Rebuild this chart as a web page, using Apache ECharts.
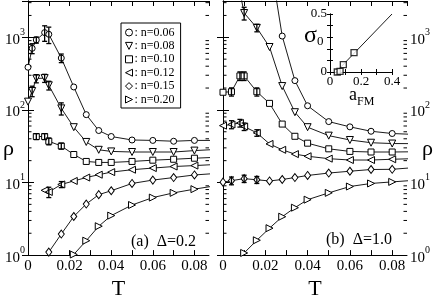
<!DOCTYPE html>
<html><head><meta charset="utf-8">
<script src="https://cdn.jsdelivr.net/npm/echarts@6/dist/echarts.min.js"></script>
<style>html,body{margin:0;padding:0;background:#fff}#c{width:436px;height:305px}</style>
</head><body><div id="c"></div>
<script>
// ---------- data ----------
const seriesNames = [': n=0.06', ': n=0.08', ': n=0.10', ': n=0.12', ': n=0.15', ': n=0.20'];
const xTickLabels = ['0', '0.02', '0.04', '0.06', '0.08'];
const insetXLabels = ['0', '0.2', '0.4'];
const insetYLabels = ['0', '0.5'];

// Panel (a) Δ=0.2
const a06T = [0, 0.002, 0.004, 0.008, 0.01, 0.016, 0.022, 0.028, 0.034, 0.04, 0.05, 0.06, 0.07, 0.08, 0.09];
const a06R = [387, 705, 920, 1160, 1100, 518, 207, 86, 52, 43, 38.5, 38, 37, 38, 38];
const a06E = [0, 110, 90, 280, 280, 70, 0, 0, 0, 0, 0, 0, 0, 0, 0];
const a08T = [0, 0.002, 0.004, 0.008, 0.01, 0.016, 0.022, 0.028, 0.034, 0.04, 0.05, 0.06, 0.07, 0.08, 0.09];
const a08R = [130, 182, 271, 274, 218, 105, 57.8, 36.2, 28.2, 26.8, 26.3, 26.3, 26.3, 27.5, 28.5];
const a08E = [0, 30, 35, 35, 30, 20, 0, 0, 0, 0, 0, 0, 0, 0, 0];
const a10T = [0.004, 0.008, 0.01, 0.016, 0.022, 0.028, 0.034, 0.04, 0.05, 0.06, 0.07, 0.08, 0.09];
const a10R = [43, 43, 37, 31.8, 24.3, 19.5, 18.9, 18.9, 19.5, 20.3, 20.9, 21.6, 22.2];
const a10E = [4, 4, 4, 3, 0, 0, 0, 0, 0, 0, 0, 0, 0];
const a12T = [0.008, 0.01, 0.016, 0.022, 0.028, 0.034, 0.04, 0.05, 0.06, 0.07, 0.08, 0.09];
const a12R = [7.8, 7.4, 9.4, 10.5, 11.7, 12.8, 13.9, 15.0, 15.8, 16.6, 17.1, 17.7];
const a12E = [0, 1.2, 0.9, 0, 0, 0, 0, 0, 0, 0, 0, 0];
const a15T = [0.01, 0.016, 0.022, 0.028, 0.034, 0.04, 0.05, 0.06, 0.07, 0.08, 0.09];
const a15R = [1.1, 1.95, 3.4, 5.05, 6.8, 7.7, 9.7, 10.8, 11.7, 12.7, 13.3];
const a20T = [0.022, 0.028, 0.034, 0.04, 0.05, 0.06, 0.07, 0.08, 0.09];
const a20R = [1.02, 1.58, 2.5, 3.5, 4.9, 6.2, 7.2, 8.1, 9.0];

// Panel (b) Δ=1.0
const b06T = [0.022, 0.028, 0.034, 0.04, 0.05, 0.06, 0.07, 0.08, 0.09];
const b06R = [13000, 1040, 253, 114, 69, 58.4, 50.8, 47.3, 46];
const b08T = [0.008, 0.01, 0.016, 0.022, 0.028, 0.034, 0.04, 0.05, 0.06, 0.07, 0.08, 0.09];
const b08R = [4200, 2160, 1350, 735, 213, 93, 57.8, 44.2, 38.5, 35.3, 34.4, 34.3];
const b08E = [0, 430, 160, 0, 0, 0, 0, 0, 0, 0, 0, 0];
const b10T = [0, 0.004, 0.008, 0.01, 0.016, 0.022, 0.028, 0.034, 0.04, 0.05, 0.06, 0.07, 0.08, 0.09];
const b10R = [175, 178, 294, 294, 178, 123, 63.8, 43.3, 34.8, 29.1, 26.8, 26.3, 26.3, 26.5];
const b10E = [0, 23, 40, 40, 23, 0, 0, 0, 0, 0, 0, 0, 0, 0];
const b12T = [0, 0.004, 0.008, 0.01, 0.016, 0.022, 0.028, 0.034, 0.04, 0.05, 0.06, 0.07, 0.08, 0.09];
const b12R = [60.7, 63, 66, 59, 48.3, 34, 28.2, 24.6, 23, 21.3, 20.4, 20.4, 20.9, 21.3];
const b12E = [0, 8, 8, 7, 5, 0, 0, 0, 0, 0, 0, 0, 0, 0];
const b15T = [0, 0.004, 0.01, 0.016, 0.022, 0.028, 0.034, 0.04, 0.05, 0.06, 0.07, 0.08, 0.09];
const b15R = [10.1, 10.6, 11.3, 10.9, 10.5, 11.0, 11.7, 12.5, 13.5, 14.3, 15.1, 15.2, 16];
const b15E = [0, 1.3, 1.3, 1.2, 0, 0, 0, 0, 0, 0, 0, 0, 0];
const b20T = [0.01, 0.016, 0.022, 0.028, 0.034, 0.04, 0.05, 0.06, 0.07, 0.08, 0.09];
const b20R = [1.07, 1.6, 2.35, 3.38, 4.5, 5.8, 7.2, 8.8, 9.7, 10.2, 10.7];

// Inset σ0 vs a_FM
const insetA = [0.047, 0.065, 0.086, 0.155];
const insetS = [0.0, 0.006, 0.064, 0.167];
const fitA = [0.039, 0.4];
const fitS = [0.0, 0.5];

// ---------- helpers ----------
const FONT = 'Liberation Serif';
const SYM = ['circle', 'path://M0,0L10,0L5,10Z', 'rect', 'path://M10,0L10,10L0,5Z', 'diamond', 'path://M0,0L0,10L10,5Z'];
const SYMSIZE = [6, 7, 6, 7, [6, 8], 7];
const pairs = (X, Y) => X.map((x, i) => [x, Y[i]]);
const errRows = (T, R, E) => T.map((t, i) => [t, R[i] - E[i], R[i] + E[i], E[i]]).filter(r => r[3] > 0);

function lineSeries(idx, gi, T, R) {
  return {
    type: 'line', name: seriesNames[idx], xAxisIndex: gi * 2, yAxisIndex: gi * 2,
    data: pairs(T, R), symbol: SYM[idx], symbolSize: SYMSIZE[idx], showAllSymbol: true,
    itemStyle: { color: '#fff', borderColor: '#000', borderWidth: 1 },
    lineStyle: { color: '#000', width: 0.9 }, clip: true, silent: true, z: 3
  };
}
function errSeries(gi, rows) {
  return {
    type: 'custom', xAxisIndex: gi * 2, yAxisIndex: gi * 2, data: rows, clip: true, silent: true, z: 4,
    encode: { x: 0, y: [1, 2] },
    renderItem: (params, api) => {
      const p1 = api.coord([api.value(0), api.value(1)]);
      const p2 = api.coord([api.value(0), api.value(2)]);
      const w = 2.5, st = { stroke: '#000', lineWidth: 1.3 };
      return { type: 'group', children: [
        { type: 'line', shape: { x1: p1[0], y1: p1[1], x2: p2[0], y2: p2[1] }, style: st },
        { type: 'line', shape: { x1: p1[0] - w, y1: p1[1], x2: p1[0] + w, y2: p1[1] }, style: st },
        { type: 'line', shape: { x1: p2[0] - w, y1: p2[1], x2: p2[0] + w, y2: p2[1] }, style: st }
      ] };
    }
  };
}
// log minor tick values (2..9 per decade)
const minorVals = [];
for (let d = 1; d <= 1000; d *= 10) for (let k = 2; k <= 9; k++) if (k * d < 3162) minorVals.push([0.01, k * d]);
function minorTickSeries(gi) {
  return {
    type: 'custom', xAxisIndex: gi * 2, yAxisIndex: gi * 2, data: minorVals, silent: true, z: 2,
    encode: { x: 0, y: 1 },
    renderItem: (params, api) => {
      const cs = params.coordSys;
      const y = api.coord([api.value(0), api.value(1)])[1];
      const L = 3.5, st = { stroke: '#000', lineWidth: 1 };
      return { type: 'group', children: [
        { type: 'line', shape: { x1: cs.x, y1: y, x2: cs.x + L, y2: y }, style: st },
        { type: 'line', shape: { x1: cs.x + cs.width - L, y1: y, x2: cs.x + cs.width, y2: y }, style: st }
      ] };
    }
  };
}

const xFmt = v => {
  const k = Math.round(v * 100);
  if (Math.abs(v * 100 - k) > 1e-6 || k % 2) return '';
  return xTickLabels[k / 2] || '';
};
const yFmt = v => {
  const e = Math.round(Math.log10(v) * 1000) / 1000;
  if (!Number.isInteger(e)) return '';
  return '{b|10}{s|' + e + '}';
};
const yRich = {
  b: { fontSize: 15, fontFamily: FONT, color: '#000', padding: [5, 0, 0, 0] },
  s: { fontSize: 10, fontFamily: FONT, color: '#000', verticalAlign: 'top' }
};
const axLine = { show: true, lineStyle: { color: '#000', width: 1 } };

function mainX(gi, pos, showLabel) {
  return {
    type: 'value', gridIndex: gi, position: pos, min: 0, max: 0.087, interval: 0.01,
    axisLine: axLine, splitLine: { show: false },
    axisTick: { show: true, inside: true, length: 5, lineStyle: { color: '#000' } },
    axisLabel: { show: showLabel, formatter: xFmt, fontSize: 15, fontFamily: FONT, color: '#000', margin: 3, showMaxLabel: false },
    name: showLabel ? 'T' : '', nameLocation: 'middle', nameGap: 12,
    nameTextStyle: { fontSize: 22, fontFamily: FONT, color: '#000', verticalAlign: 'top' }
  };
}
function mainY(gi, pos, showLabel) {
  return {
    type: 'log', logBase: 10, gridIndex: gi, position: pos, min: 1, max: 3162.28,
    axisLine: axLine, splitLine: { show: false }, minorTick: { show: false },
    axisTick: { show: true, inside: true, length: 6, lineStyle: { color: '#000' } },
    axisLabel: { show: showLabel, formatter: yFmt, rich: yRich, margin: 3, showMaxLabel: false }
  };
}

const insetLbl = { fontSize: 13, fontFamily: FONT, color: '#000' };
const option = {
  animation: false,
  backgroundColor: '#fff',
  textStyle: { fontFamily: FONT },
  grid: [
    { left: 28, top: 1, width: 181, height: 269 },
    { left: 223, top: 1, width: 184, height: 269 },
    { left: 330, top: 14, width: 62, height: 58, show: true, backgroundColor: '#fff', borderWidth: 0, z: 5 }
  ],
  xAxis: [
    mainX(0, 'bottom', true), mainX(0, 'top', false),
    mainX(1, 'bottom', true), mainX(1, 'top', false),
    { type: 'value', gridIndex: 2, position: 'bottom', min: 0, max: 0.4, interval: 0.1, z: 6,
      axisLine: axLine, splitLine: { show: false },
      axisTick: { inside: true, length: 3, lineStyle: { color: '#000' } },
      axisLabel: Object.assign({ margin: 3, formatter: v => { const k = Math.round(v * 10); return (k % 2) ? '' : (insetXLabels[k / 2] || ''); } }, insetLbl) },
    { type: 'value', gridIndex: 2, position: 'top', min: 0, max: 0.4, interval: 0.1, z: 6,
      axisLine: axLine, splitLine: { show: false },
      axisTick: { inside: true, length: 3, lineStyle: { color: '#000' } }, axisLabel: { show: false } }
  ],
  yAxis: [
    mainY(0, 'left', true), mainY(0, 'right', false),
    mainY(1, 'right', true), mainY(1, 'left', false),
    { type: 'value', gridIndex: 2, position: 'left', min: 0, max: 0.5, interval: 0.1, z: 6,
      axisLine: axLine, splitLine: { show: false },
      axisTick: { inside: true, length: 3, lineStyle: { color: '#000' } },
      axisLabel: Object.assign({ margin: 3, formatter: v => { const k = Math.round(v * 10); return k === 0 ? insetYLabels[0] : (k === 5 ? insetYLabels[1] : ''); } }, insetLbl) },
    { type: 'value', gridIndex: 2, position: 'right', min: 0, max: 0.5, interval: 0.1, z: 6,
      axisLine: axLine, splitLine: { show: false },
      axisTick: { inside: true, length: 3, lineStyle: { color: '#000' } }, axisLabel: { show: false } }
  ],
  legend: {
    left: 121, top: 23, orient: 'vertical', padding: [3, 6, 2, 4], itemGap: 0.4,
    itemWidth: 7, itemHeight: 7, borderColor: '#000', borderWidth: 1, backgroundColor: '#fff',
    textStyle: { fontSize: 12, fontFamily: FONT, color: '#000', lineHeight: 13, padding: [0, 0, 0, -3] },
    itemStyle: { color: '#fff', borderColor: '#000', borderWidth: 1 },
    data: seriesNames.map((n, i) => ({ name: n, icon: SYM[i] })),
    selectedMode: false
  },
  graphic: [
    { type: 'text', left: 3, top: 138, style: { text: 'ρ', fontSize: 22, fontFamily: FONT, fill: '#000' } },
    { type: 'text', left: 422, top: 138, style: { text: 'ρ', fontSize: 22, fontFamily: FONT, fill: '#000' } },
    { type: 'text', left: 131, top: 234, style: { text: '(a)  Δ=0.2', fontSize: 16, fontFamily: FONT, fill: '#000' } },
    { type: 'text', left: 326, top: 232, style: { text: '(b)  Δ=1.0', fontSize: 16, fontFamily: FONT, fill: '#000' } },
    { type: 'text', left: 304, top: 24, style: { text: '{s|σ}{u|0}', rich: {
      s: { fontSize: 24, fontFamily: FONT, fill: '#000' },
      u: { fontSize: 13, fontFamily: FONT, fill: '#000', verticalAlign: 'bottom', padding: [0, 0, 0, 0] } } } },
    { type: 'text', left: 349, top: 86, style: { text: '{s|a}{u|FM}', rich: {
      s: { fontSize: 18, fontFamily: FONT, fill: '#000' },
      u: { fontSize: 12, fontFamily: FONT, fill: '#000', verticalAlign: 'bottom', padding: [0, 0, -4, 0] } } } }
  ],
  series: [
    minorTickSeries(0), minorTickSeries(1),
    lineSeries(0, 0, a06T, a06R), lineSeries(1, 0, a08T, a08R), lineSeries(2, 0, a10T, a10R),
    lineSeries(3, 0, a12T, a12R), lineSeries(4, 0, a15T, a15R), lineSeries(5, 0, a20T, a20R),
    errSeries(0, [].concat(errRows(a06T, a06R, a06E), errRows(a08T, a08R, a08E), errRows(a10T, a10R, a10E), errRows(a12T, a12R, a12E))),
    lineSeries(0, 1, b06T, b06R), lineSeries(1, 1, b08T, b08R), lineSeries(2, 1, b10T, b10R),
    lineSeries(3, 1, b12T, b12R), lineSeries(4, 1, b15T, b15R), lineSeries(5, 1, b20T, b20R),
    errSeries(1, [].concat(errRows(b08T, b08R, b08E), errRows(b10T, b10R, b10E), errRows(b12T, b12R, b12E), errRows(b15T, b15R, b15E))),
    { type: 'line', xAxisIndex: 4, yAxisIndex: 4, data: pairs(fitA, fitS), symbol: 'none',
      lineStyle: { color: '#000', width: 0.9 }, silent: true, z: 7 },
    { type: 'scatter', xAxisIndex: 4, yAxisIndex: 4, data: pairs(insetA, insetS), symbol: 'rect', symbolSize: 6,
      itemStyle: { color: '#fff', borderColor: '#000', borderWidth: 1.3 }, silent: true, z: 8, clip: false }
  ]
};
const chart = echarts.init(document.getElementById('c'), null, { renderer: 'canvas' });
chart.setOption(option);
</script></body></html>
